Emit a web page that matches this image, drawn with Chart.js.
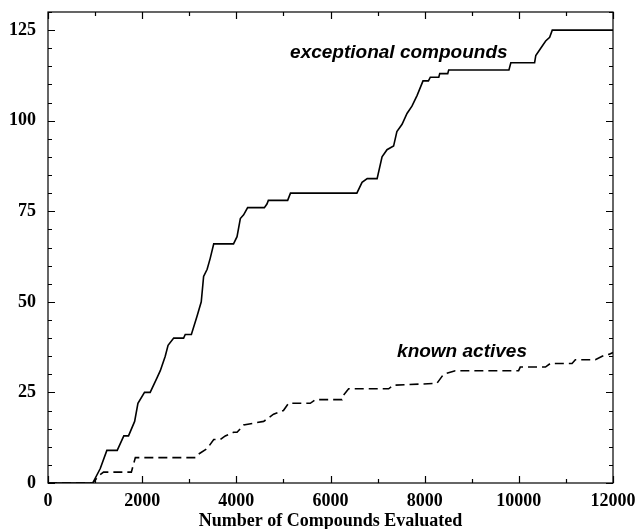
<!DOCTYPE html>
<html>
<head>
<meta charset="utf-8">
<script src="https://cdn.jsdelivr.net/npm/chart.js@4.4.1/dist/chart.umd.min.js"></script>
<style>
  html, body { margin: 0; padding: 0; background: #fff; }
</style>
</head>
<body>
<canvas id="hits" width="637" height="529"></canvas>
<script>
// axis ticks
const xTicks = [0, 2000, 4000, 6000, 8000, 10000, 12000]
const yTicks = [0, 25, 50, 75, 100, 125]
const xMinorStep = 1000
const yMinorStep = 5

// cumulative hits: exceptional compounds
const exceptionalX = [0, 950, 1110, 1250, 1470, 1540, 1610, 1710, 1840, 1910, 2050, 2170, 2315, 2385, 2490, 2550, 2670, 2880, 2915, 3045,
  3165, 3255, 3305, 3380, 3445, 3520, 3940, 4015, 4085, 4155, 4240, 4595, 4650, 4680, 5090, 5150, 6560, 6670, 6780, 6990,
  7095, 7200, 7340, 7410, 7520, 7625, 7730, 7840, 7965, 8080, 8120, 8300, 8320, 8490, 8510, 9790, 9830, 10335, 10360, 10465,
  10570, 10655, 10710, 12000]
const exceptionalY = [0, 0, 4, 9, 9, 11, 13, 13, 17, 22, 25, 25, 29, 31, 35, 38, 40, 40, 41, 41,
  46, 50, 57, 59, 62, 66, 66, 68, 73, 74, 76, 76, 77, 78, 78, 80, 80, 83, 84, 84,
  90, 92, 93, 97, 99, 102, 104, 107, 111, 111, 112, 112, 113, 113, 114, 114, 116, 116, 118, 120,
  122, 123, 125, 125]

// cumulative hits: known actives
const activesX = [0, 950, 1075, 1180, 1770, 1855, 3130, 3200, 3380, 3520, 3660, 3765, 3940, 4015, 4155, 4580, 4790, 5000, 5110, 5570,
  5680, 6245, 6260, 6385, 7235, 7340, 8260, 8400, 8650, 9995, 10030, 10565, 10670, 11130, 11200, 11625, 11770, 11910, 12000]
const activesY = [0, 0, 2, 3, 3, 7, 7, 8, 9.5, 12, 12, 13, 14, 14, 16, 17, 19, 20, 22, 22,
  23, 23, 24, 26, 26, 27, 27.5, 30, 31, 31, 32, 32, 33, 33, 34, 34, 35, 35.5, 36]

const toPoints = (xs, ys) => xs.map((x, i) => ({ x: x, y: ys[i] }))

// box around the plot with inward ticks on all four sides
const frameTicks = {
  id: 'frameTicks',
  afterDraw(chart) {
    const { ctx, chartArea: a, scales: { x, y } } = chart
    ctx.save()
    ctx.strokeStyle = '#000'
    ctx.lineWidth = 1.2
    ctx.strokeRect(a.left, a.top, a.right - a.left, a.bottom - a.top)
    ctx.beginPath()
    for (let v = x.min; v <= x.max; v += xMinorStep) {
      const px = Math.round(x.getPixelForValue(v)) + 0.5
      const len = xTicks.includes(v) ? 7 : 4
      ctx.moveTo(px, a.bottom); ctx.lineTo(px, a.bottom - len)
      ctx.moveTo(px, a.top); ctx.lineTo(px, a.top + len)
    }
    for (let v = y.min; v <= y.max; v += yMinorStep) {
      const py = Math.round(y.getPixelForValue(v)) + 0.5
      const len = yTicks.includes(v) ? 7 : 4
      ctx.moveTo(a.left, py); ctx.lineTo(a.left + len, py)
      ctx.moveTo(a.right, py); ctx.lineTo(a.right - len, py)
    }
    ctx.stroke()
    ctx.restore()
  }
}

// series names written next to their curves
const curveLabels = {
  id: 'curveLabels',
  afterDatasetsDraw(chart) {
    const { ctx, scales: { x, y } } = chart
    ctx.save()
    ctx.fillStyle = '#000'
    ctx.font = 'italic bold 19px "Liberation Sans", Arial, sans-serif'
    ctx.textAlign = 'center'
    ctx.textBaseline = 'alphabetic'
    ctx.fillText('exceptional compounds', x.getPixelForValue(7451), y.getPixelForValue(117.2))
    ctx.fillText('known actives', x.getPixelForValue(8793), y.getPixelForValue(34.9))
    ctx.restore()
  }
}

const tickFont = { family: '"Liberation Serif", "Times New Roman", serif', size: 18, weight: 'bold' }

new Chart(document.getElementById('hits'), {
  type: 'line',
  data: {
    datasets: [
      {
        label: 'exceptional compounds',
        data: toPoints(exceptionalX, exceptionalY),
        borderColor: '#000',
        borderWidth: 1.6,
        pointRadius: 0,
        tension: 0
      },
      {
        label: 'known actives',
        data: toPoints(activesX, activesY),
        borderColor: '#000',
        borderWidth: 1.6,
        borderDash: [9, 5],
        pointRadius: 0,
        tension: 0
      }
    ]
  },
  options: {
    responsive: false,
    animation: false,
    layout: { padding: { top: 12, right: 24, left: 0, bottom: 0 } },
    plugins: { legend: { display: false }, tooltip: { enabled: false } },
    scales: {
      x: {
        type: 'linear',
        min: 0,
        max: 12000,
        afterBuildTicks: s => { s.ticks = xTicks.map(v => ({ value: v })) },
        afterFit: s => {
          s.height = 46
          s.paddingLeft = 0
          s.paddingRight = 0
        },
        grid: { display: false, drawTicks: false },
        border: { display: false },
        ticks: { color: '#000', font: tickFont, padding: 8, maxRotation: 0, autoSkip: false, callback: v => String(v) },
        title: {
          display: true,
          text: 'Number of Compounds Evaluated',
          color: '#000',
          font: tickFont,
          padding: { top: 0, bottom: -3.5 }
        }
      },
      y: {
        min: 0,
        max: 130,
        afterBuildTicks: s => { s.ticks = yTicks.map(v => ({ value: v })) },
        afterFit: s => {
          s.width = 48
          s.paddingTop = 0
          s.paddingBottom = 0
        },
        grid: { display: false, drawTicks: false },
        border: { display: false },
        ticks: { color: '#000', font: tickFont, padding: 12, callback: v => String(v) }
      }
    }
  },
  plugins: [frameTicks, curveLabels]
})
</script>
</body>
</html>
